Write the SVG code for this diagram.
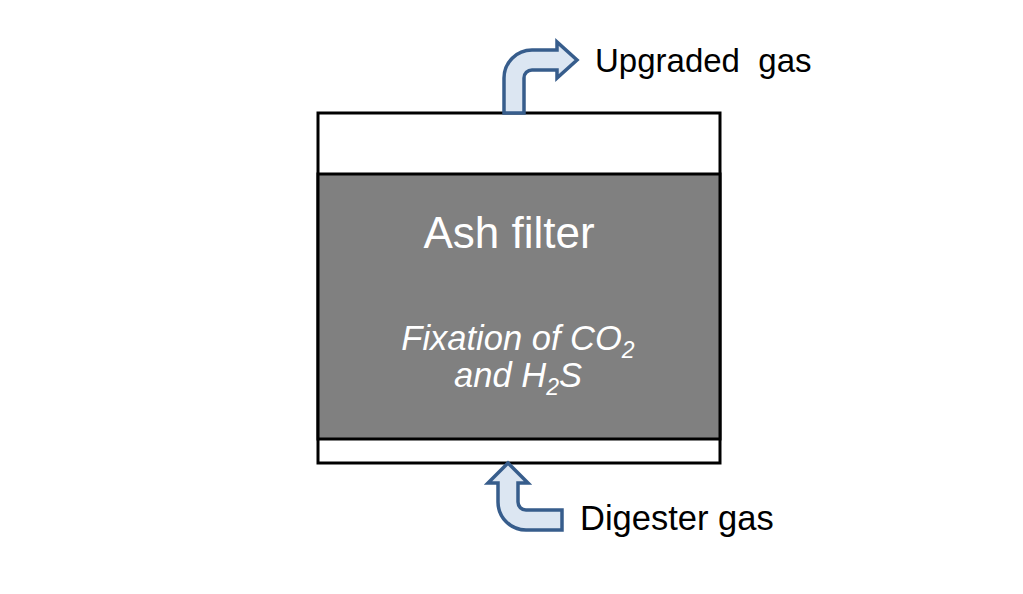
<svg xmlns="http://www.w3.org/2000/svg" width="1023" height="594" viewBox="0 0 1023 594">
<style>
.lbl{font-family:"Liberation Sans",Arial,sans-serif;fill:#000}
.inner{font-family:"Liberation Sans",Arial,sans-serif;fill:#fff}
.arrow{fill:#dce6f2;stroke:#375d8c;stroke-width:3.5;stroke-linejoin:miter}
</style>
<rect width="1023" height="594" fill="#fff"/>
<g id="filter">
<rect x="318" y="113" width="402" height="350" fill="#fff" stroke="#000" stroke-width="3"/>
<rect x="318" y="174" width="402" height="265" fill="#808080" stroke="#000" stroke-width="3"/>
<text class="inner" x="509" y="248" font-size="44" text-anchor="middle">Ash filter</text>
<text class="inner" x="518" y="350" font-size="34.5" font-style="italic" text-anchor="middle">Fixation of CO<tspan font-size="23" dy="8">2</tspan></text>
<text class="inner" x="518" y="387" font-size="34.5" font-style="italic" text-anchor="middle">and H<tspan font-size="23" dy="8">2</tspan><tspan dy="-8">S</tspan></text>
</g>
<g id="connectors">
<path class="arrow" d="M504,113 V78 A28,28 0 0 1 532,50 H557 V42 L577,60 L557,78 V70 H532 A8,8 0 0 0 524,78 V113 Z"/>
<path class="arrow" d="M508,463 L528,483 H518 V502 A8,8 0 0 0 526,510 H562 V530 H526 A28,28 0 0 1 498,502 V483 H488 Z"/>
</g>
<g id="upgraded">
<text class="lbl" x="595" y="72" font-size="33" xml:space="preserve">Upgraded  gas</text>
</g>
<g id="digester">
<text class="lbl" x="580" y="530" font-size="34.5">Digester gas</text>
</g>
</svg>
